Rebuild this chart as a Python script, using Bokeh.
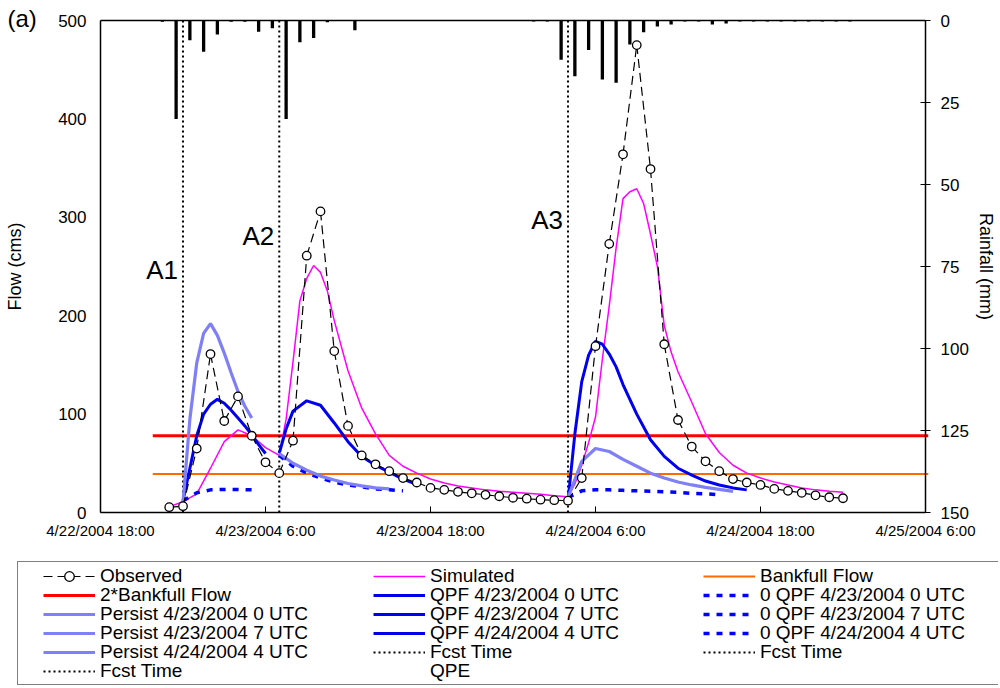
from bokeh.plotting import figure
from bokeh.models import Range1d, LinearAxis, FixedTicker, Legend, LegendItem, Label
from bokeh.embed import file_html
from bokeh.resources import INLINE
from bokeh.core.properties import value

FONT = "Liberation Sans"

# ---------------- data (x = hours after 4/22/2004 18:00 UTC) ----------------
x_ticks = [0, 12, 24, 36, 48, 60]
x_tick_labels = ["4/22/2004 18:00", "4/23/2004 6:00", "4/23/2004 18:00",
                 "4/24/2004 6:00", "4/24/2004 18:00", "4/25/2004 6:00"]
flow_ticks = [0, 100, 200, 300, 400, 500]
rain_ticks = [0, 25, 50, 75, 100, 125, 150]

obs_hours = [5, 6, 7, 8, 9, 10, 11, 12, 13, 14, 15, 16, 17, 18, 19, 20, 21, 22, 23, 24,
             25, 26, 27, 28, 29, 30, 31, 32, 33, 34, 35, 36, 37, 38, 39, 40, 41, 42, 43, 44,
             45, 46, 47, 48, 49, 50, 51, 52, 53, 54]
obs_flow = [5.4, 6.4, 65, 161, 93, 118, 78, 51, 40, 73, 261, 306, 164, 88, 58, 49, 42, 35, 30.5, 25,
            23, 21, 19.5, 18, 16.5, 15, 14, 13, 12.5, 12, 35, 169, 273, 364, 475, 349, 171, 94, 67, 52,
            42, 34, 30.5, 28, 24, 22, 20, 17.5, 15.5, 14.5]

sim_hours = [5, 6, 7, 8, 9, 10, 11, 12, 13, 13.5, 14, 14.5, 15, 15.5, 16, 16.5, 17, 18, 19, 20,
             21, 22, 23, 24, 25, 26, 27, 28, 29, 30, 31, 32, 33, 34, 34.5, 35, 35.5, 36, 36.5, 37,
             37.5, 38, 38.5, 39, 39.5, 40, 40.5, 41, 41.5, 42, 43, 44, 45, 46, 47, 48, 49, 50, 51,
             52, 53, 54]
sim_flow = [6, 11, 19, 45, 72, 84, 78, 66, 58, 95, 153, 215, 238, 251, 244, 225, 195, 144, 106, 80,
            58, 47, 40, 34, 30, 27, 25, 23, 21.5, 20.5, 19.5, 18.5, 17, 16, 29, 48, 71, 97, 156, 210,
            269, 319, 326, 329, 314, 283, 250, 190, 163, 143, 112, 80, 61, 48, 40, 35, 31, 28, 25,
            23, 21.5, 20.5]

bankfull_flow = 39
bankfull_hours = [3.8, 60.2]

persist0_hours = [6, 6.5, 7, 7.5, 8, 8.5, 9, 9.5, 10, 10.5, 11]
persist0_flow = [10, 95, 152, 182, 192, 180, 162, 142, 123, 108, 96]
persist7_hours = [13, 14, 15, 16, 17, 18, 19, 20, 21]
persist7_flow = [60, 50, 43, 37, 33, 29.5, 27, 25, 24]
persist4_hours = [34, 35, 36, 37, 38, 39, 40, 41, 42, 43, 44, 45, 46]
persist4_flow = [15, 52, 65, 62, 54, 47, 40, 35, 31, 28, 25.5, 23.5, 21.5]

qpf0_hours = [6, 6.5, 7, 7.5, 8, 8.5, 9, 9.5, 10, 10.5, 11, 11.5, 12]
qpf0_flow = [12, 45, 78, 100, 110, 115, 111, 104, 96, 88, 79, 69, 60]
qpf7_hours = [13, 13.5, 14, 15, 16, 17, 18, 19, 20, 21, 22, 23]
qpf7_flow = [60, 85, 103, 113.5, 109, 91, 72, 57, 48, 41, 34, 28.5]
qpf4_hours = [34, 34.5, 35, 35.5, 36, 36.5, 37, 37.5, 38, 39, 40, 41, 42, 43, 44, 45, 46, 47]
qpf4_flow = [12, 80, 133, 160, 174, 171, 161, 148, 130, 100, 74, 57, 45, 38, 32, 28, 25, 23]

zqpf0_hours = [6, 7, 8, 9, 10, 11]
zqpf0_flow = [12, 20, 23, 23.5, 23.5, 23]
zqpf7_hours = [13, 14, 15, 16, 17, 18, 19, 20, 21, 22]
zqpf7_flow = [58, 47, 40, 35, 31, 28, 26, 24, 23, 22]
zqpf4_hours = [34, 35, 36, 37, 38, 39, 40, 41, 42, 43, 44, 45]
zqpf4_flow = [15, 22, 23, 23, 22.5, 22, 21.5, 21, 20.5, 19.5, 19, 18]

fcst_hours = [6, 13, 34]
fcst_labels = ["A1", "A2", "A3"]
fcst_label_flow = [246, 281, 297]

rain_hours = [4.5, 5.5, 6.5, 7.5, 8.5, 9.5, 10.5, 11.5, 12.5, 13.5, 14.5, 15.5, 16.5, 17.5, 18.5,
              31.5, 32.5, 33.5, 34.5, 35.5, 36.5, 37.5, 38.5, 39.5, 40.5, 41.5, 42.5, 43.5, 44.5,
              45.5, 46.5, 47.5, 48.5, 49.5, 50.5, 51.5, 52.5, 53.5, 54.5]
rain_mm = [0.4, 30, 6, 9.5, 4.3, 0.4, 0.4, 3.4, 2.4, 30, 6.6, 5.3, 0.5, 0, 3,
           0.3, 0.3, 12, 17, 9, 18, 19, 7.3, 3.6, 1.8, 1.2, 0.3, 0.3, 1.2,
           0.9, 0.3, 0.3, 0.3, 0.3, 0.3, 0.3, 0.3, 0.3, 0.3]

# ---------------- layout geometry (canvas pixels) ----------------
W, H = 998, 686
PX_L, PX_R, PY_T, PY_B = 100, 925, 20, 512      # plot-area box inside the canvas
x0, x1 = x_ticks[0], x_ticks[-1]
f0, f1 = flow_ticks[0], flow_ticks[-1]
r0, r1 = rain_ticks[0], rain_ticks[-1]
hx = (x1 - x0) / (PX_R - PX_L)
hf = (f1 - f0) / (PY_B - PY_T)
hr = (r1 - r0) / (PY_B - PY_T)

p = figure(width=W, height=H,
           x_range=Range1d(x0 - PX_L * hx, x1 + (W - PX_R) * hx),
           y_range=Range1d(f0 - (H - PY_B) * hf, f1 + PY_T * hf),
           x_axis_location=None, y_axis_location=None,
           output_backend="svg", toolbar_location=None, min_border=0)
p.extra_y_ranges = {"rain": Range1d(start=r1 + (H - PY_B) * hr, end=r0 - PY_T * hr)}
p.grid.visible = False
p.outline_line_color = None
p.background_fill_color = "white"


def style_axis(ax, tick_size):
    ax.minor_tick_line_color = None
    ax.major_label_text_font = FONT
    ax.major_label_text_font_size = tick_size
    ax.major_label_text_color = "black"
    ax.axis_label_text_font = FONT
    ax.axis_label_text_font_size = "18px"
    ax.axis_label_text_font_style = "normal"
    ax.axis_label_text_color = "black"
    ax.axis_line_width = 1.5
    ax.axis_line_color = "black"
    ax.major_tick_line_color = "black"


# axes (placed on the plot-area edges)
xax = LinearAxis(fixed_location=f0, bounds=(x0, x1), ticker=FixedTicker(ticks=x_ticks),
                 major_label_overrides={t: l for t, l in zip(x_ticks, x_tick_labels)})
style_axis(xax, "15px")
xax.major_tick_in = 6
xax.major_tick_out = 0
xax.major_label_standoff = 9
p.add_layout(xax, "below")

yax = LinearAxis(fixed_location=x0, bounds=(f0, f1), ticker=FixedTicker(ticks=flow_ticks),
                 axis_label="Flow (cms)")
style_axis(yax, "17px")
yax.major_tick_in = 0
yax.major_tick_out = 0
yax.major_label_standoff = 14
yax.axis_label_standoff = 30
p.add_layout(yax, "left")

rax = LinearAxis(y_range_name="rain", fixed_location=x1, bounds=(r0, r1),
                 ticker=FixedTicker(ticks=rain_ticks), axis_label="Rainfall (mm)")
style_axis(rax, "17px")
rax.major_tick_in = 5
rax.major_tick_out = 5
rax.major_label_standoff = 10
rax.axis_label_standoff = 4
p.add_layout(rax, "right")

# top border of the plot area
p.line([x0, x1], [f1, f1], line_color="black", line_width=1.5)

# ---------------- glyphs ----------------
r_bf = p.line(bankfull_hours, [bankfull_flow] * len(bankfull_hours), line_color="#FF6A00", line_width=2)
r_bf2 = p.line(bankfull_hours, [2 * bankfull_flow] * len(bankfull_hours), line_color="#FF0000", line_width=3)

r_fcst = []
for h in fcst_hours:
    r_fcst.append(p.line([h, h], [f0, f1], line_color="black", line_width=2, line_dash="2 3"))

r_sim = p.line(sim_hours, sim_flow, line_color="#FF00FF", line_width=1.5)

r_z = []
for hh, ff in [(zqpf0_hours, zqpf0_flow), (zqpf7_hours, zqpf7_flow), (zqpf4_hours, zqpf4_flow)]:
    r_z.append(p.line(hh, ff, line_color="#0000FF", line_width=3.5, line_dash="6 7"))

r_q = []
for hh, ff in [(qpf0_hours, qpf0_flow), (qpf7_hours, qpf7_flow), (qpf4_hours, qpf4_flow)]:
    r_q.append(p.line(hh, ff, line_color="#0000EE", line_width=3))

r_p = []
for hh, ff in [(persist0_hours, persist0_flow), (persist7_hours, persist7_flow), (persist4_hours, persist4_flow)]:
    r_p.append(p.line(hh, ff, line_color="#7F7FF7", line_width=3.2))

seg_xs = [[obs_hours[i], obs_hours[i + 1]] for i in range(len(obs_hours) - 1)]
seg_ys = [[obs_flow[i], obs_flow[i + 1]] for i in range(len(obs_flow) - 1)]
r_obs_l = p.multi_line(seg_xs, seg_ys, line_color="black", line_width=1.2, line_dash="9 5")
r_obs_m = p.scatter(obs_hours, obs_flow, marker="circle", size=8.5, fill_color="white",
                    line_color="black", line_width=1.3)

p.vbar(x=rain_hours, width=0.24, top=[r0] * len(rain_mm), bottom=rain_mm,
       y_range_name="rain", fill_color="black", line_color=None)

p.text(x=fcst_hours, y=fcst_label_flow, text=fcst_labels, text_align="right",
       text_baseline="middle", x_offset=-5, text_font=value(FONT), text_font_size="26px",
       text_color="black")

r_dummy = p.line([], [], line_alpha=0)
r_qpe = p.line([], [], line_alpha=0)

p.add_layout(Label(x=7, y=H - 18, x_units="screen", y_units="screen", text="(a)",
                   text_font=FONT, text_font_size="24px", text_baseline="middle",
                   text_align="left", text_color="black"))

# ---------------- legend ----------------
BOX_L, BOX_R, BOX_T, BOX_B = 17, 997, 563, 685
box = Legend(items=[LegendItem(label=" ", renderers=[r_dummy])], location=(BOX_L, H - BOX_B),
             padding=0, margin=0, spacing=0, glyph_width=1, glyph_height=BOX_B - BOX_T,
             label_height=BOX_B - BOX_T, label_width=BOX_R - BOX_L - 1, label_standoff=0,
             border_line_color="black", border_line_width=1.2,
             background_fill_color="white", background_fill_alpha=1.0)
p.add_layout(box)

rows = [
    [("Observed", [r_obs_l, r_obs_m]), ("Simulated", [r_sim]), ("Bankfull Flow", [r_bf])],
    [("2*Bankfull Flow", [r_bf2]), ("QPF 4/23/2004 0 UTC", [r_q[0]]), ("0 QPF 4/23/2004 0 UTC", [r_z[0]])],
    [("Persist 4/23/2004 0 UTC", [r_p[0]]), ("QPF 4/23/2004 7 UTC", [r_q[1]]), ("0 QPF 4/23/2004 7 UTC", [r_z[1]])],
    [("Persist 4/23/2004 7 UTC", [r_p[1]]), ("QPF 4/24/2004 4 UTC", [r_q[2]]), ("0 QPF 4/24/2004 4 UTC", [r_z[2]])],
    [("Persist 4/24/2004 4 UTC", [r_p[2]]), ("Fcst Time", [r_fcst[0]]), ("Fcst Time", [r_fcst[1]])],
    [("Fcst Time", [r_fcst[2]]), ("QPE", [r_qpe])],
]
row_center = [576, 595, 614, 633, 652, 671]
for items, yc in zip(rows, row_center):
    leg = Legend(items=[LegendItem(label=lab, renderers=rs) for lab, rs in items],
                 orientation="horizontal", location=(43, H - (yc + 12)),
                 padding=0, margin=0, spacing=0, glyph_width=52, glyph_height=24,
                 label_height=24, label_width=273, label_standoff=5,
                 border_line_alpha=0, background_fill_alpha=0,
                 label_text_font=FONT, label_text_font_size="19px", label_text_color="black")
    p.add_layout(leg)

open("out.html", "w").write(file_html(p, INLINE))
